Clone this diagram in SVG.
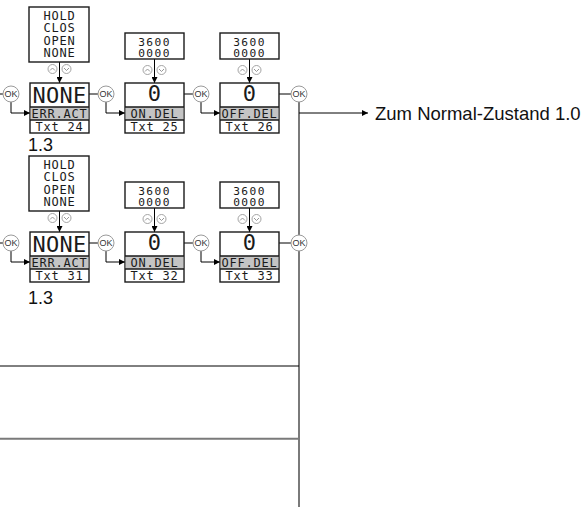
<svg xmlns="http://www.w3.org/2000/svg" width="588" height="507" viewBox="0 0 588 507">
<defs>
<style>
.box{fill:#fff;stroke:#1a1a1a;stroke-width:1.4}
.band{fill:#c4c4c4;stroke:none}
.sep{stroke:#1a1a1a;stroke-width:1.4}
.lcd{font-family:"DejaVu Sans Mono","Liberation Mono",monospace;font-size:12px;fill:#1a1a1a;text-anchor:middle;letter-spacing:0.8px}
.val{font-size:11.2px;letter-spacing:1.4px}
.big{font-size:22px;letter-spacing:0.3px}
.okc{fill:#fff;stroke:#9a9a9a;stroke-width:1}
.okt{font-family:"Liberation Sans",Arial,sans-serif;font-size:9px;fill:#333;text-anchor:middle}
.btn{fill:#fff;stroke:#9a9a9a;stroke-width:0.9}
.chev{fill:none;stroke:#8a8a8a;stroke-width:0.9}
.conn{fill:none;stroke:#000;stroke-width:1}
.gray{fill:none;stroke:#7a7a7a;stroke-width:2}
.lbl{font-family:"Liberation Sans",Arial,sans-serif;font-size:18px;fill:#111}
.zum{font-size:18.5px}
</style>
<marker id="arr" viewBox="0 0 6 6" refX="6" refY="3" markerWidth="6" markerHeight="6" markerUnits="userSpaceOnUse" orient="auto">
<path d="M0,0 L6,3 L0,6 z" fill="#000"/>
</marker>
</defs>
<rect width="588" height="507" fill="#fff"/>

<g id="connectors">
<path class="gray" d="M299 102 V507"/>
<path class="conn" d="M0 366 H299" stroke-width="1.4"/>
<path class="gray" d="M0 438.7 H299"/>
<!-- row 1 -->
<path class="conn" d="M0 94 H3"/>
<path class="conn" d="M11 102 V113 H30" marker-end="url(#arr)"/>
<path class="conn" d="M89 94 H98"/>
<path class="conn" d="M106 102 V113 H125" marker-end="url(#arr)"/>
<path class="conn" d="M184 94 H193"/>
<path class="conn" d="M201 102 V113 H220" marker-end="url(#arr)"/>
<path class="conn" d="M279 94 H291"/>
<path class="conn" d="M299 113 H368" marker-end="url(#arr)"/>
<path class="conn" d="M59.5 62 V83" marker-end="url(#arr)"/>
<path class="conn" d="M154.5 59 V83" marker-end="url(#arr)"/>
<path class="conn" d="M249.5 59 V83" marker-end="url(#arr)"/>
<!-- row 2 -->
<path class="conn" d="M0 243 H3"/>
<path class="conn" d="M11 251 V262 H30" marker-end="url(#arr)"/>
<path class="conn" d="M89 243 H98"/>
<path class="conn" d="M106 251 V262 H125" marker-end="url(#arr)"/>
<path class="conn" d="M184 243 H193"/>
<path class="conn" d="M201 251 V262 H220" marker-end="url(#arr)"/>
<path class="conn" d="M279 243 H291"/>
<path class="conn" d="M59.5 211 V232" marker-end="url(#arr)"/>
<path class="conn" d="M154.5 208 V232" marker-end="url(#arr)"/>
<path class="conn" d="M249.5 208 V232" marker-end="url(#arr)"/>
</g>

<!-- Row 1 -->
<g id="opt1">
<rect class="box" x="29" y="7" width="60" height="55"/>
<text class="lcd" x="59.5" y="19.5">HOLD</text>
<text class="lcd" x="59.5" y="32">CLOS</text>
<text class="lcd" x="59.5" y="44.5">OPEN</text>
<text class="lcd" x="59.5" y="57">NONE</text>
</g>
<g id="btn1">
<circle class="btn" cx="52.5" cy="69" r="4.5"/><path class="chev" d="M50 70.5 L52.5 68 L55 70.5"/>
<circle class="btn" cx="66.5" cy="69" r="4.5"/><path class="chev" d="M64 68 L66.5 70.5 L69 68"/>
</g>
<g id="main24">
<rect class="box" x="30" y="83" width="59" height="50"/>
<rect class="band" x="30.7" y="107" width="57.6" height="13"/>
<path class="sep" d="M30 107 H89 M30 120 H89"/>
<text class="lcd big" x="59.5" y="103">NONE</text>
<text class="lcd" x="59.5" y="118">ERR.ACT</text>
<text class="lcd" x="59.5" y="131">Txt 24</text>
</g>
<g id="ok1"><circle class="okc" cx="11" cy="94" r="8"/><text class="okt" x="11" y="97.2">OK</text></g>

<g id="val25">
<rect class="box" x="125" y="33" width="59" height="26"/>
<text class="lcd val" x="154.5" y="45.5">3600</text>
<text class="lcd val" x="154.5" y="57">0000</text>
</g>
<g id="btn2">
<circle class="btn" cx="147.5" cy="70" r="4.5"/><path class="chev" d="M145 71.5 L147.5 69 L150 71.5"/>
<circle class="btn" cx="161.5" cy="70" r="4.5"/><path class="chev" d="M159 69 L161.5 71.5 L164 69"/>
</g>
<g id="main25">
<rect class="box" x="125" y="83" width="59" height="50"/>
<rect class="band" x="125.7" y="107" width="57.6" height="13"/>
<path class="sep" d="M125 107 H184 M125 120 H184"/>
<text class="lcd big" x="154.5" y="101">0</text>
<text class="lcd" x="154.5" y="118">ON.DEL</text>
<text class="lcd" x="154.5" y="131">Txt 25</text>
</g>
<g id="ok2"><circle class="okc" cx="106" cy="94" r="8"/><text class="okt" x="106" y="97.2">OK</text></g>

<g id="val26">
<rect class="box" x="220" y="33" width="59" height="26"/>
<text class="lcd val" x="249.5" y="45.5">3600</text>
<text class="lcd val" x="249.5" y="57">0000</text>
</g>
<g id="btn3">
<circle class="btn" cx="242.5" cy="70" r="4.5"/><path class="chev" d="M240 71.5 L242.5 69 L245 71.5"/>
<circle class="btn" cx="256.5" cy="70" r="4.5"/><path class="chev" d="M254 69 L256.5 71.5 L259 69"/>
</g>
<g id="main26">
<rect class="box" x="220" y="83" width="59" height="50"/>
<rect class="band" x="220.7" y="107" width="57.6" height="13"/>
<path class="sep" d="M220 107 H279 M220 120 H279"/>
<text class="lcd big" x="249.5" y="101">0</text>
<text class="lcd" x="249.5" y="118">OFF.DEL</text>
<text class="lcd" x="249.5" y="131">Txt 26</text>
</g>
<g id="ok3"><circle class="okc" cx="201" cy="94" r="8"/><text class="okt" x="201" y="97.2">OK</text></g>
<g id="ok4"><circle class="okc" cx="299" cy="94" r="8"/><text class="okt" x="299" y="97.2">OK</text></g>

<g id="label13a"><text class="lbl" x="28" y="151">1.3</text></g>
<g id="normal"><text class="lbl zum" x="375" y="120">Zum Normal-Zustand 1.0</text></g>

<!-- Row 2 -->
<g id="opt2">
<rect class="box" x="29" y="156" width="60" height="55"/>
<text class="lcd" x="59.5" y="168.5">HOLD</text>
<text class="lcd" x="59.5" y="181">CLOS</text>
<text class="lcd" x="59.5" y="193.5">OPEN</text>
<text class="lcd" x="59.5" y="206">NONE</text>
</g>
<g id="btn4">
<circle class="btn" cx="52.5" cy="218" r="4.5"/><path class="chev" d="M50 219.5 L52.5 217 L55 219.5"/>
<circle class="btn" cx="66.5" cy="218" r="4.5"/><path class="chev" d="M64 217 L66.5 219.5 L69 217"/>
</g>
<g id="main31">
<rect class="box" x="30" y="232" width="59" height="50"/>
<rect class="band" x="30.7" y="256" width="57.6" height="13"/>
<path class="sep" d="M30 256 H89 M30 269 H89"/>
<text class="lcd big" x="59.5" y="252">NONE</text>
<text class="lcd" x="59.5" y="267">ERR.ACT</text>
<text class="lcd" x="59.5" y="280">Txt 31</text>
</g>
<g id="ok5"><circle class="okc" cx="11" cy="243" r="8"/><text class="okt" x="11" y="246.2">OK</text></g>

<g id="val32">
<rect class="box" x="125" y="182" width="59" height="26"/>
<text class="lcd val" x="154.5" y="194.5">3600</text>
<text class="lcd val" x="154.5" y="206">0000</text>
</g>
<g id="btn5">
<circle class="btn" cx="147.5" cy="219" r="4.5"/><path class="chev" d="M145 220.5 L147.5 218 L150 220.5"/>
<circle class="btn" cx="161.5" cy="219" r="4.5"/><path class="chev" d="M159 218 L161.5 220.5 L164 218"/>
</g>
<g id="main32">
<rect class="box" x="125" y="232" width="59" height="50"/>
<rect class="band" x="125.7" y="256" width="57.6" height="13"/>
<path class="sep" d="M125 256 H184 M125 269 H184"/>
<text class="lcd big" x="154.5" y="250">0</text>
<text class="lcd" x="154.5" y="267">ON.DEL</text>
<text class="lcd" x="154.5" y="280">Txt 32</text>
</g>
<g id="ok6"><circle class="okc" cx="106" cy="243" r="8"/><text class="okt" x="106" y="246.2">OK</text></g>

<g id="val33">
<rect class="box" x="220" y="182" width="59" height="26"/>
<text class="lcd val" x="249.5" y="194.5">3600</text>
<text class="lcd val" x="249.5" y="206">0000</text>
</g>
<g id="btn6">
<circle class="btn" cx="242.5" cy="219" r="4.5"/><path class="chev" d="M240 220.5 L242.5 218 L245 220.5"/>
<circle class="btn" cx="256.5" cy="219" r="4.5"/><path class="chev" d="M254 218 L256.5 220.5 L259 218"/>
</g>
<g id="main33">
<rect class="box" x="220" y="232" width="59" height="50"/>
<rect class="band" x="220.7" y="256" width="57.6" height="13"/>
<path class="sep" d="M220 256 H279 M220 269 H279"/>
<text class="lcd big" x="249.5" y="250">0</text>
<text class="lcd" x="249.5" y="267">OFF.DEL</text>
<text class="lcd" x="249.5" y="280">Txt 33</text>
</g>
<g id="ok7"><circle class="okc" cx="201" cy="243" r="8"/><text class="okt" x="201" y="246.2">OK</text></g>
<g id="ok8"><circle class="okc" cx="299" cy="243" r="8"/><text class="okt" x="299" y="246.2">OK</text></g>

<g id="label13b"><text class="lbl" x="28" y="304">1.3</text></g>
</svg>
